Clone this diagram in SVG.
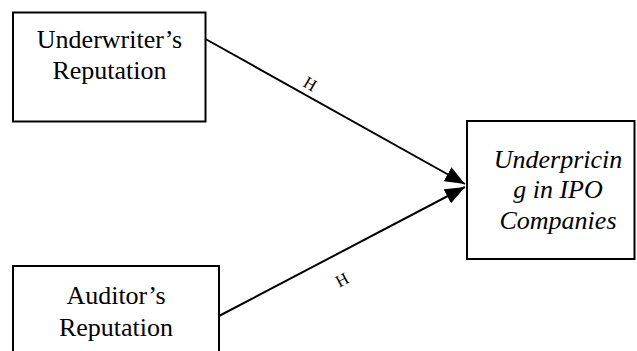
<svg xmlns="http://www.w3.org/2000/svg" width="637" height="351" viewBox="0 0 637 351">
<style>
.box{fill:#fff;stroke:#000;stroke-width:2}
.t{font-family:'Liberation Serif','Times New Roman',serif;font-size:26px;fill:#000;text-anchor:middle}
.i{font-style:italic}
.lbl{font-family:'Liberation Serif','Times New Roman',serif;font-size:17px;fill:#000;text-anchor:middle;dominant-baseline:central}
.c{stroke:#000;stroke-width:2;fill:none}
</style>
<defs>
<marker id="a" viewBox="0 0 20 16" refX="20" refY="8" markerWidth="20" markerHeight="16" markerUnits="userSpaceOnUse" orient="auto">
<path d="M0,0 L20,8 L0,16 z" fill="#000"/>
</marker>
</defs>
<rect width="637" height="351" fill="#fff"/>
<g id="connectors">
<line class="c" x1="205.5" y1="39" x2="465" y2="184" marker-end="url(#a)"/>
<line class="c" x1="219" y1="316" x2="465" y2="187" marker-end="url(#a)"/>
<text class="lbl" transform="translate(310,84) rotate(30)">H</text>
<text class="lbl" transform="translate(342,280) rotate(-28)">H</text>
</g>
<g id="underwriter">
<rect class="box" x="13" y="12.5" width="192.5" height="109"/>
<text class="t" x="109.5" y="48">Underwriter’s</text>
<text class="t" x="109.5" y="79">Reputation</text>
</g>
<g id="auditor">
<rect class="box" x="13" y="266" width="206" height="100"/>
<text class="t" x="116" y="304">Auditor’s</text>
<text class="t" x="116" y="336">Reputation</text>
</g>
<g id="underpricing">
<rect class="box" x="467" y="121" width="167.5" height="138"/>
<text class="t i" x="558" y="168">Underpricin</text>
<text class="t i" x="558" y="198">g in IPO</text>
<text class="t i" x="558" y="229">Companies</text>
</g>
</svg>
